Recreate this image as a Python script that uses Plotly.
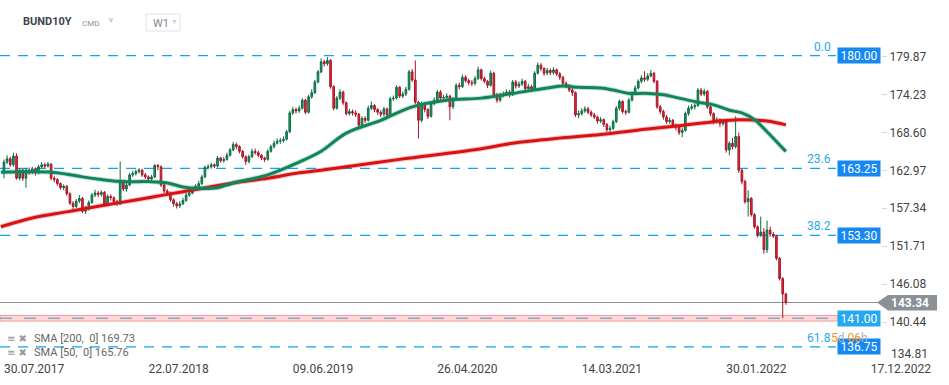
import plotly.graph_objects as go

# ---------------- data (weekly candles, BUND10Y) ----------------
first_open = 162.8
closes = [
    164.2, 164.7, 163.8, 165.1, 161.8, 163.0, 161.8, 163.0, 162.7, 163.2,
    162.6, 163.5, 163.8, 163.6, 163.9, 161.8, 161.6, 161.0, 160.4, 160.6,
    159.5, 158.1, 157.6, 158.4, 158.8, 156.9, 157.3, 158.2, 159.3, 159.6,
    159.4, 159.7, 157.9, 159.1, 158.9, 158.3, 158.0, 161.3, 160.2, 160.8,
    162.3, 162.5, 162.8, 163.0, 162.3, 162.0, 161.7, 162.0, 163.7, 163.5,
    160.8, 159.9, 159.6, 158.6, 158.0, 157.7, 158.0, 158.5, 159.3, 159.6,
    160.1, 160.6, 161.0, 162.0, 163.4, 163.5, 163.8, 163.6, 164.8, 164.4,
    164.6, 165.2, 166.0, 166.8, 166.5, 165.8, 165.0, 164.3, 165.0, 165.8,
    165.6, 165.2, 164.8, 164.6, 165.8, 166.5, 167.0, 167.3, 167.4, 167.6,
    168.7, 171.5, 172.0, 171.8, 172.2, 173.4, 171.6, 173.9, 174.5, 176.1,
    177.6, 179.1, 178.8, 179.3, 175.4, 172.2, 173.7, 174.6, 173.0, 171.4,
    171.7, 171.5, 171.3, 169.7, 170.7, 170.4, 172.2, 172.6, 172.0, 171.6,
    171.3, 172.1, 171.2, 173.6, 173.7, 175.3, 174.0, 174.3, 175.0, 177.6,
    176.4, 173.1, 170.4, 172.9, 172.0, 171.0, 172.9, 173.4, 174.6, 173.7,
    173.8, 174.0, 172.4, 173.6, 175.6, 175.4, 176.8, 176.3, 176.0, 175.9,
    176.6, 177.9, 176.6, 176.2, 175.6, 177.4, 174.2, 173.4, 174.1, 174.3,
    174.6, 174.2, 176.1, 175.5, 175.8, 176.2, 175.1, 175.4, 175.0, 177.4,
    178.6, 178.1, 177.4, 177.8, 177.5, 177.9, 177.3, 176.8, 175.9, 175.6,
    174.9, 174.5, 171.2, 171.4, 171.8, 172.1, 171.6, 171.2, 170.9, 170.3,
    170.5, 169.8, 169.0, 169.2, 170.2, 172.2, 173.2, 171.7, 171.6, 173.4,
    174.4, 175.2, 176.2, 176.7, 176.5, 177.0, 177.4, 176.2, 172.4, 171.7,
    170.9, 170.2, 170.4, 169.7, 169.4, 168.6, 168.9, 171.4, 172.2, 172.4,
    172.6, 174.9, 174.3, 174.7, 172.4, 171.4, 170.2, 170.5, 169.9, 170.2,
    166.0, 167.0, 166.5, 168.0, 163.0, 161.3, 158.3, 158.8, 156.4, 154.6,
    153.4, 153.8, 151.2, 154.1, 153.5, 153.2, 149.9, 146.9, 144.6, 143.34,
]
highs = [
    164.6, 165.2, 165.0, 165.6, 165.5, 163.3, 163.2, 163.3, 163.4, 163.5,
    163.4, 163.8, 164.2, 164.1, 164.2, 164.0, 162.1, 161.8, 161.2, 160.9,
    160.8, 159.7, 158.4, 158.7, 159.3, 159.0, 157.7, 158.5, 159.6, 160.1,
    159.9, 160.0, 159.9, 159.4, 159.4, 159.1, 158.6, 164.3, 161.6, 161.2,
    162.6, 162.9, 163.1, 163.3, 163.2, 162.6, 162.2, 162.3, 163.9, 163.9,
    163.7, 161.0, 160.2, 159.8, 158.8, 158.3, 158.4, 158.9, 159.6, 160.0,
    160.4, 160.9, 161.4, 162.3, 163.7, 163.9, 164.1, 164.0, 165.1, 165.0,
    165.0, 165.6, 166.3, 167.2, 167.1, 166.7, 166.0, 165.2, 165.3, 166.2,
    166.2, 165.9, 165.4, 165.0, 166.1, 166.8, 167.4, 167.7, 167.8, 168.0,
    169.0, 171.8, 172.4, 172.3, 172.6, 173.7, 173.6, 174.2, 175.0, 176.4,
    177.9, 179.6, 179.4, 179.8, 179.5, 175.6, 174.0, 175.0, 174.8, 173.2,
    172.1, 172.0, 171.9, 171.5, 171.0, 171.0, 172.6, 173.2, 172.8, 172.2,
    171.9, 172.4, 172.3, 173.9, 174.1, 175.6, 175.5, 174.7, 175.4, 177.9,
    178.0, 179.3, 173.3, 173.2, 173.1, 172.2, 173.2, 173.8, 174.9, 174.9,
    174.2, 174.4, 174.2, 173.9, 175.9, 176.0, 177.2, 177.1, 176.6, 176.4,
    177.0, 178.4, 178.1, 176.9, 176.4, 177.8, 177.6, 174.5, 174.5, 174.7,
    175.0, 174.9, 176.4, 176.4, 176.2, 176.6, 176.4, 175.8, 175.7, 177.7,
    179.0, 178.9, 178.3, 178.2, 178.1, 178.3, 178.1, 177.6, 177.0, 176.2,
    175.8, 175.2, 174.7, 171.9, 172.2, 172.5, 172.4, 171.9, 171.5, 171.1,
    170.9, 170.7, 170.0, 169.6, 170.5, 172.5, 173.5, 173.4, 172.0, 173.7,
    174.7, 175.6, 176.5, 177.1, 177.7, 177.4, 177.9, 177.6, 176.4, 172.7,
    172.0, 171.2, 170.8, 170.6, 169.9, 169.6, 169.3, 171.7, 172.6, 172.8,
    173.0, 175.2, 175.2, 175.1, 174.9, 172.6, 171.6, 170.9, 170.7, 170.6,
    170.4, 167.3, 167.8, 171.0, 168.6, 163.2, 161.6, 160.0, 159.0, 156.6,
    154.8, 156.1, 154.4, 155.5, 154.6, 153.8, 153.4, 150.1, 147.1, 144.8,
]
lows = [
    161.8, 163.9, 163.5, 163.5, 161.6, 161.5, 161.4, 160.4, 162.3, 162.4,
    162.2, 162.4, 163.2, 163.3, 163.4, 161.5, 161.2, 160.7, 160.1, 160.0,
    159.2, 157.8, 157.2, 157.4, 158.1, 156.6, 156.5, 157.0, 158.0, 159.0,
    159.0, 159.1, 157.6, 157.7, 158.5, 158.0, 157.7, 157.8, 159.9, 159.8,
    160.6, 162.0, 162.2, 162.5, 162.0, 161.7, 161.4, 161.4, 161.8, 163.0,
    160.5, 159.6, 159.2, 158.3, 157.6, 157.3, 157.4, 157.8, 158.3, 159.0,
    159.4, 159.9, 160.4, 160.8, 161.8, 163.1, 163.2, 163.3, 163.4, 164.1,
    164.1, 164.4, 165.0, 165.8, 166.1, 165.5, 164.7, 163.8, 164.0, 164.8,
    165.3, 164.9, 164.5, 164.2, 164.4, 165.6, 166.2, 166.8, 166.9, 167.1,
    167.4, 168.5, 171.2, 171.4, 171.5, 172.0, 171.3, 171.4, 173.6, 174.3,
    175.9, 177.4, 178.4, 178.5, 175.1, 171.9, 172.0, 173.4, 172.7, 171.1,
    171.1, 171.1, 170.9, 169.3, 169.5, 170.0, 170.2, 171.9, 171.6, 171.2,
    170.9, 171.0, 170.9, 171.0, 173.3, 173.5, 173.7, 173.7, 174.0, 174.8,
    176.1, 172.8, 167.7, 170.1, 171.6, 170.6, 170.8, 172.6, 173.2, 173.3,
    173.3, 173.5, 170.4, 172.1, 173.4, 175.0, 175.2, 176.0, 175.6, 175.5,
    175.6, 176.4, 176.3, 175.9, 175.2, 175.4, 173.9, 173.0, 173.1, 173.8,
    174.0, 173.8, 174.0, 175.1, 175.2, 175.5, 174.8, 174.8, 174.6, 174.8,
    177.2, 177.7, 177.0, 177.1, 177.1, 177.2, 177.0, 176.4, 175.6, 175.2,
    174.6, 174.0, 170.9, 170.7, 171.1, 171.5, 171.3, 170.9, 170.6, 169.9,
    170.0, 169.4, 168.7, 168.7, 169.0, 170.0, 171.9, 171.4, 171.2, 171.4,
    173.2, 174.1, 175.0, 175.9, 176.1, 176.2, 176.8, 175.9, 172.1, 171.3,
    170.5, 169.9, 169.9, 169.3, 168.9, 168.2, 167.9, 168.7, 171.1, 171.9,
    172.0, 172.4, 174.0, 174.0, 172.1, 171.0, 169.8, 169.9, 169.4, 169.6,
    165.6, 165.2, 166.1, 166.2, 162.6, 160.9, 158.0, 156.1, 156.1, 154.3,
    153.0, 153.1, 150.6, 150.7, 153.1, 152.9, 149.6, 146.6, 141.0, 143.0,
]
opens = [first_open] + closes[:-1]
bars = list(range(len(closes)))

tick_bars = [0, 46, 92, 138, 184, 230, 276]
tick_dates = ["30.07.2017", "22.07.2018", "09.06.2019", "26.04.2020",
              "14.03.2021", "30.01.2022", "17.12.2022"]

sma200_bars = [-1, 9, 20, 31, 41, 52, 62, 73, 84, 94, 101, 126, 151, 162,
               178, 190, 205, 215, 226, 234, 243, 249]
sma200_vals = [154.6, 155.9, 156.8, 157.7, 158.5, 159.4, 160.2, 161.1, 161.8,
               162.6, 163.0, 164.6, 166.1, 167.0, 167.8, 168.3, 169.1, 169.6,
               170.2, 170.5, 170.3, 169.73]
sma50_bars = [-1, 15, 20, 25, 31, 37, 46, 52, 57, 62, 68, 73, 84, 94, 101,
              109, 120, 130, 141, 152, 162, 173, 178, 183, 190, 194, 199, 205,
              210, 215, 221, 226, 231, 235, 239, 243, 249]
sma50_vals = [162.7, 162.7, 162.4, 162.0, 161.6, 161.3, 161.3, 161.1, 160.5,
              160.3, 160.4, 161.1, 162.3, 164.2, 165.8, 168.5, 170.4, 172.4,
              173.4, 173.7, 174.4, 175.2, 175.5, 175.3, 175.2, 174.9, 174.4,
              174.4, 174.2, 173.7, 173.1, 172.7, 171.9, 171.5, 170.5, 168.7,
              165.76]

fib_levels = [180.00, 163.25, 153.30, 136.75]
fib_ratios = ["0.0", "23.6", "38.2", "61.8"]
alert_level = 141.00
last_price = 143.34
y_ticks = [179.87, 174.23, 168.60, 162.97, 157.34, 151.71, 146.08, 140.44]
y_bottom_label = 134.81

# ---------------- layout geometry (pixels) ----------------
W, H = 949, 385
PL, PR, PT, PB = 0, 881, 38, 360
Y_RANGE = [134.80, 182.63]
X_RANGE = [-1.27, 279.3]
FONT = "Roboto, Arial, sans-serif"


def pxx(x):
    return (x - PL) / (PR - PL)


def pxy(y):
    return (PB - y) / (PB - PT)


fig = go.Figure()

# SMA halos + lines
fig.add_trace(go.Scatter(x=sma200_bars, y=sma200_vals, mode="lines",
                         line=dict(color="rgba(220,20,20,0.25)", width=5, shape="spline"),
                         hoverinfo="skip", showlegend=False))
fig.add_trace(go.Scatter(x=sma200_bars, y=sma200_vals, mode="lines",
                         line=dict(color="#d81212", width=3, shape="spline"),
                         hoverinfo="skip", showlegend=False))
fig.add_trace(go.Scatter(x=sma50_bars, y=sma50_vals, mode="lines",
                         line=dict(color="rgba(20,140,90,0.25)", width=5, shape="spline"),
                         hoverinfo="skip", showlegend=False))
fig.add_trace(go.Scatter(x=sma50_bars, y=sma50_vals, mode="lines",
                         line=dict(color="#12845a", width=3, shape="spline"),
                         hoverinfo="skip", showlegend=False))

fig.add_trace(go.Candlestick(
    x=bars, open=opens, high=highs, low=lows, close=closes,
    increasing=dict(line=dict(color="#0f6b45", width=1), fillcolor="#1f9a64"),
    decreasing=dict(line=dict(color="#a81626", width=1), fillcolor="#e42b3c"),
    whiskerwidth=0, hoverinfo="skip", showlegend=False))

shapes = []
annotations = []

# fib dashed lines
for lv, rt in zip(fib_levels, fib_ratios):
    shapes.append(dict(type="line", xref="paper", yref="y", x0=0, x1=pxx(836),
                       y0=lv, y1=lv, layer="below",
                       line=dict(color="#12a3ee", width=1.2, dash="10px,8px")))
    annotations.append(dict(xref="paper", yref="y", x=pxx(833), y=lv,
                            xanchor="right", yanchor="bottom", yshift=0,
                            text=rt, showarrow=False,
                            font=dict(family=FONT, size=12, color="#2aa8ee")))
    annotations.append(dict(xref="paper", yref="y", x=1.0, y=lv,
                            xanchor="right", yanchor="middle", width=42, height=15,
                            text=f"{lv:.2f}", showarrow=False, bgcolor="#1588f2",
                            borderpad=0, font=dict(family=FONT, size=12, color="white")))

# alert band at 141.00
shapes.append(dict(type="rect", xref="paper", yref="y", x0=0, x1=pxx(838),
                   y0=alert_level - 0.42, y1=alert_level + 0.42, layer="below",
                   fillcolor="rgba(255,170,170,0.45)",
                   line=dict(color="rgba(240,120,120,0.7)", width=1)))
shapes.append(dict(type="line", xref="paper", yref="y", x0=0, x1=pxx(838),
                   y0=alert_level, y1=alert_level, layer="below",
                   line=dict(color="#93a7c2", width=1.5, dash="12px,12px")))
annotations.append(dict(xref="paper", yref="y", x=1.0, y=alert_level,
                        xanchor="right", yanchor="middle", width=42, height=15,
                        text=f"{alert_level:.2f}", showarrow=False, bgcolor="#25a8f0",
                        borderpad=0, font=dict(family=FONT, size=12, color="white")))

# last price line and label
shapes.append(dict(type="line", xref="paper", yref="y", x0=0, x1=pxx(878),
                   y0=last_price, y1=last_price, layer="below",
                   line=dict(color="#8a9196", width=1)))
yp = 55.7 + (180 - last_price) * 6.733
path = (f"M {pxx(877)},{pxy(yp)} L {pxx(888)},{pxy(yp - 7.5)} "
        f"L {pxx(937)},{pxy(yp - 7.5)} L {pxx(937)},{pxy(yp + 8)} "
        f"L {pxx(888)},{pxy(yp + 8)} Z")
shapes.append(dict(type="path", xref="paper", yref="paper", path=path,
                   fillcolor="#8b9297", line=dict(width=0)))
annotations.append(dict(xref="paper", yref="y", x=pxx(910), y=last_price,
                        xanchor="center", yanchor="middle", showarrow=False,
                        text=f"<b>{last_price:.2f}</b>",
                        font=dict(family=FONT, size=12, color="white")))

# bottom axis label that sits at the lower edge
annotations.append(dict(xref="paper", yref="paper", x=pxx(889), y=pxy(354),
                        xanchor="left", yanchor="middle", showarrow=False,
                        text=f"{y_bottom_label:.2f}",
                        font=dict(family=FONT, size=12, color="#444")))

# countdown text (overlaps the 61.8 label as in the source)
annotations.append(dict(xref="paper", yref="paper", x=pxx(829), y=pxy(338),
                        xanchor="left", yanchor="middle", showarrow=False,
                        text=('<span style="color:#f3921f">5</span>'
                              '<span style="color:#b0b0b0">d</span> '
                              '<span style="color:#f3921f">06</span>'
                              '<span style="color:#b0b0b0">h</span>'),
                        font=dict(family=FONT, size=12, color="#f3921f")))

# header
annotations += [
    dict(xref="paper", yref="paper", x=pxx(21), y=pxy(22), xanchor="left",
         yanchor="middle", showarrow=False, text="<b>BUND10Y</b>",
         font=dict(family=FONT, size=11, color="#3a4550")),
    dict(xref="paper", yref="paper", x=pxx(80), y=pxy(23), xanchor="left",
         yanchor="middle", showarrow=False, text="CMD",
         font=dict(family=FONT, size=8, color="#8795a1")),
    dict(xref="paper", yref="paper", x=pxx(105), y=pxy(20), xanchor="left",
         yanchor="middle", showarrow=False, text="▼",
         font=dict(family=FONT, size=8, color="#c8cdd2")),
    dict(xref="paper", yref="paper", x=pxx(151), y=pxy(23), xanchor="left",
         yanchor="middle", showarrow=False, text="W1",
         font=dict(family=FONT, size=11, color="#7d8791")),
    dict(xref="paper", yref="paper", x=pxx(169), y=pxy(22), xanchor="left",
         yanchor="middle", showarrow=False, text="▼",
         font=dict(family=FONT, size=7, color="#c8cdd2")),
]
shapes.append(dict(type="rect", xref="paper", yref="paper", x0=pxx(146), x1=pxx(180),
                   y0=pxy(31), y1=pxy(14), line=dict(color="#dfe3e7", width=1),
                   fillcolor="white"))

# indicator legend
for yy, txt in [(338, "SMA [200,  0] 169.73"), (352, "SMA [50,  0] 165.76")]:
    annotations.append(dict(xref="paper", yref="paper", x=pxx(5), y=pxy(yy),
                            xanchor="left", yanchor="middle", showarrow=False,
                            text="≡ ✖",
                            font=dict(family="DejaVu Sans", size=10, color="#9a9a9a")))
    annotations.append(dict(xref="paper", yref="paper", x=pxx(32), y=pxy(yy),
                            xanchor="left", yanchor="middle", showarrow=False,
                            text=txt, font=dict(family=FONT, size=11, color="#666")))

fig.update_layout(
    width=W, height=H,
    margin=dict(l=PL, r=W - PR, t=PT, b=H - PB),
    paper_bgcolor="white", plot_bgcolor="white",
    showlegend=False,
    shapes=shapes, annotations=annotations,
    boxgap=0.25,
    xaxis=dict(range=X_RANGE, rangeslider=dict(visible=False),
               tickvals=tick_bars, ticktext=tick_dates,
               ticklabelposition="outside right",
               showgrid=False, zeroline=False, showline=False, ticks="",
               tickfont=dict(family=FONT, size=12, color="#444")),
    yaxis=dict(range=Y_RANGE, side="right", tickvals=y_ticks,
               ticktext=[f"{v:.2f}" for v in y_ticks],
               showgrid=False, zeroline=False, showline=False,
               ticks="outside", ticklen=5, tickcolor="#d8d8d8",
               tickfont=dict(family=FONT, size=12, color="#444")),
)

fig.write_html("out.html", config={"displayModeBar": False},
               post_script="document.body.style.margin='0';")
